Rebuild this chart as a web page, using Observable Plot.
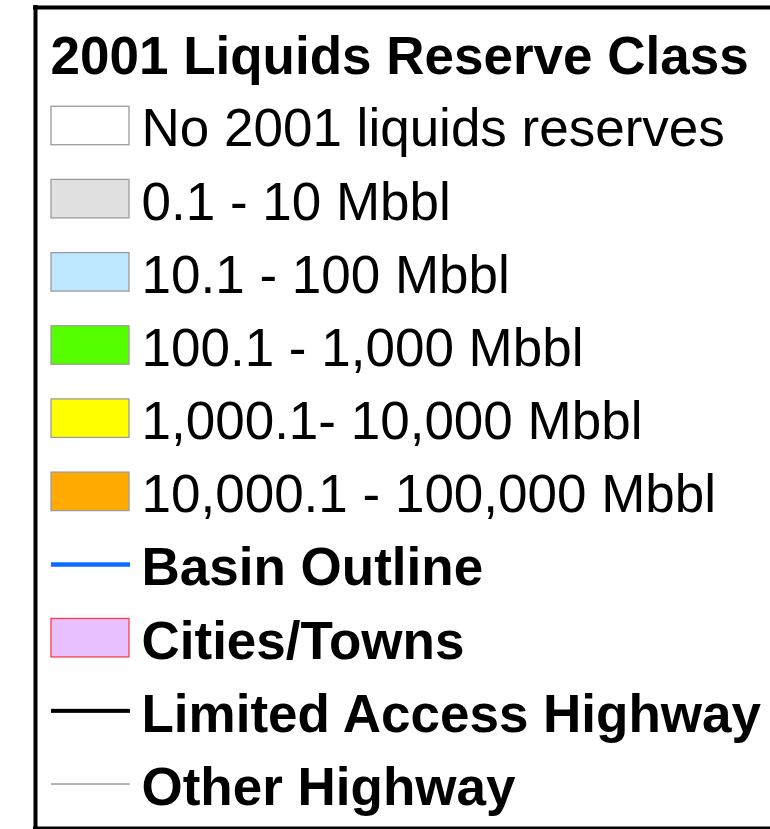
<!DOCTYPE html>
<html>
<head>
<meta charset="utf-8">
<script src="https://cdn.jsdelivr.net/npm/d3@7"></script>
<script src="https://cdn.jsdelivr.net/npm/@observablehq/plot@0.6"></script>
<style>
  html, body { margin: 0; padding: 0; background: #fff; overflow: hidden; }
</style>
</head>
<body>
<div id="chart"></div>
<script>
// ---- data ----
const title = "2001 Liquids Reserve Class";
const labels = [
  "No 2001 liquids reserves",
  "0.1 - 10 Mbbl",
  "10.1 - 100 Mbbl",
  "100.1 - 1,000 Mbbl",
  "1,000.1- 10,000 Mbbl",
  "10,000.1 - 100,000 Mbbl",
  "Basin Outline",
  "Cities/Towns",
  "Limited Access Highway",
  "Other Highway"
];
const kinds = ["box", "box", "box", "box", "box", "box", "line", "box", "line", "line"];
const fills = ["#ffffff", "#e1e1e1", "#bee8ff", "#55ff00", "#ffff00", "#ffaa00", "#0a6cff", "#e8c0ff", "#000000", "#b4b4b4"];
const strokes = ["#9c9c9c", "#9c9c9c", "#9c9c9c", "#9c9c9c", "#9c9c9c", "#9c9c9c", "none", "#ff3c46", "none", "none"];
const lineWidths = [0, 0, 0, 0, 0, 0, 4.5, 0, 4, 2];
const bold = [false, false, false, false, false, false, true, true, true, true];

// ---- layout (not data) ----
const W = 770, H = 829;
const rowStep = 73.17, firstRow = 52.33;
const swatchX1 = 51, swatchX2 = 129, swatchH = 38.5, textX = 141, titleX = 50;
const fontSize = 53;

const rows = ["__title", ...labels];
const items = labels.map((label, i) => ({
  label, kind: kinds[i], fill: fills[i], stroke: strokes[i], lw: lineWidths[i], bold: bold[i]
}));

const bandTop = firstRow - rowStep / 2;
const bandBottom = firstRow + rowStep * (rows.length - 1) + rowStep / 2;

const boxInset = (rowStep - swatchH) / 2;
const font = "'Liberation Sans', Arial, Helvetica, sans-serif";

const lineMarks = items.filter(d => d.kind === "line").map(d =>
  Plot.rect([d], {
    x1: () => swatchX1, x2: () => swatchX2 + 1, y: "label",
    fill: "fill",
    insetTop: (rowStep - d.lw) / 2, insetBottom: (rowStep - d.lw) / 2
  })
);

const chart = Plot.plot({
  width: W,
  height: H,
  margin: 0,
  style: { background: "#fff", fontFamily: font },
  x: { type: "linear", domain: [0, W], range: [0, W], axis: null },
  y: { type: "band", domain: rows, range: [bandTop, bandBottom], padding: 0, round: false, axis: null },
  color: { type: "identity" },
  marks: [
    // swatches
    Plot.rect(items.filter(d => d.kind === "box"), {
      x1: () => swatchX1, x2: () => swatchX2, y: "label",
      fill: "fill", stroke: "stroke", strokeWidth: 1.3,
      insetTop: boxInset, insetBottom: boxInset
    }),
    ...lineMarks,
    // title
    Plot.text([title], {
      x: () => titleX, y: () => "__title", text: d => d,
      textAnchor: "start", fontSize, fontWeight: "bold", fill: "#000", dy: 4.7
    }),
    // labels
    Plot.text(items.filter(d => !d.bold), {
      x: () => textX, y: "label", text: "label",
      textAnchor: "start", fontSize, fill: "#000", dy: 3.5
    }),
    Plot.text(items.filter(d => d.bold), {
      x: () => textX, y: "label", text: "label",
      textAnchor: "start", fontSize, fontWeight: "bold", fill: "#000", dy: 3.5
    })
  ]
});

// legend box edges (left, top, bottom) drawn on a linear overlay plot
const frame = Plot.plot({
  width: W, height: H, margin: 0,
  x: { domain: [0, W], range: [0, W], axis: null },
  y: { domain: [0, H], range: [0, H], axis: null },
  marks: [
    Plot.ruleX([35], { y1: 5, y2: H, stroke: "#000", strokeWidth: 4 }),
    Plot.ruleY([7], { x1: 33, x2: W, stroke: "#000", strokeWidth: 4 }),
    Plot.ruleY([827.5], { x1: 33, x2: W, stroke: "#000", strokeWidth: 3 })
  ]
});
frame.style.position = "absolute";
frame.style.left = "0";
frame.style.top = "0";
frame.style.background = "transparent";
frame.style.pointerEvents = "none";

const holder = document.getElementById("chart");
holder.style.position = "relative";
holder.appendChild(chart);
holder.appendChild(frame);
</script>
</body>
</html>
